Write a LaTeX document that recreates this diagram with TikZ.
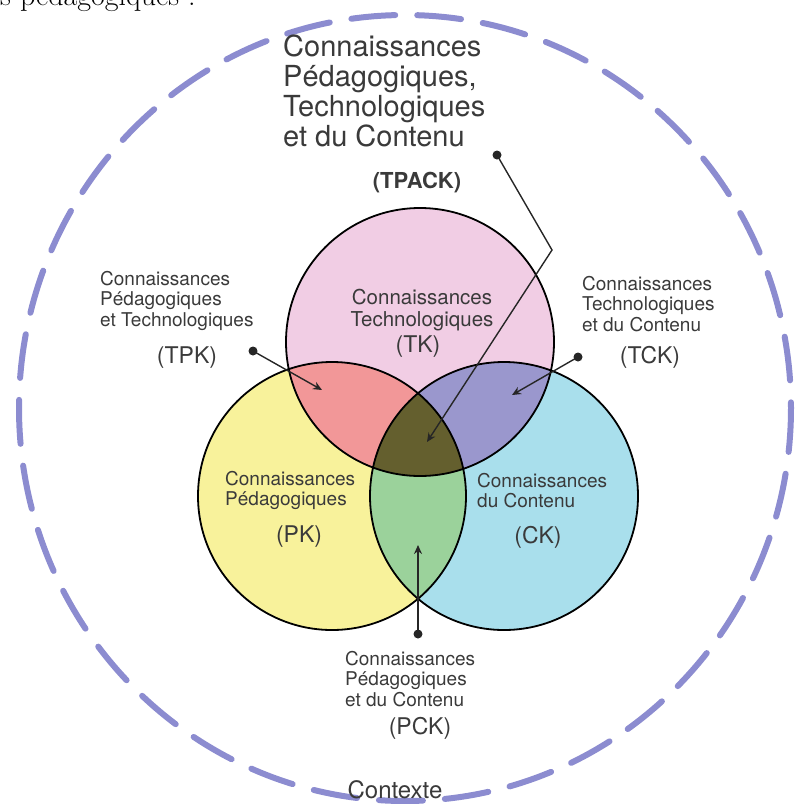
\documentclass[tikz,border=0pt]{standalone}
\usepackage{fontspec}
\setsansfont{TeX Gyre Heros}
\usepackage{tikz}
\usetikzlibrary{arrows.meta,calc,positioning}
\definecolor{tkpink}{HTML}{F1CDE4}
\definecolor{pkyellow}{HTML}{F8F29B}
\definecolor{ckcyan}{HTML}{A9DFEC}
\definecolor{tpkred}{HTML}{F29798}
\definecolor{tckviolet}{HTML}{9A97CD}
\definecolor{pckgreen}{HTML}{9BD29B}
\definecolor{tpackolive}{HTML}{645F2E}
\definecolor{ctxlilac}{HTML}{8C8CD0}
\definecolor{inkgray}{HTML}{3A3A3A}
\newcommand{\vennr}{134}
\tikzset{
	venn edge/.style={draw=black, line width=1.8pt},
	context ring/.style={draw=ctxlilac, line width=6pt, dash pattern=on 44pt off 22pt, line cap=round},
	kn label/.style={font=\sffamily\fontsize{19}{20.5}\selectfont, text=inkgray, align=left, inner sep=0pt},
	kn abbr/.style={font=\sffamily\fontsize{23}{25}\selectfont, text=inkgray, inner sep=0pt},
	kn title/.style={font=\sffamily\fontsize{29}{30}\selectfont, text=inkgray, align=left, inner sep=0pt},
	ptr/.style={draw=black!85, line width=1.4pt, -{Stealth[length=9pt,width=8pt]}},
	ptr dot/.style={fill=black!85}
}
\begin{document}
\begin{tikzpicture}[x=1pt,y=-1pt]
	\clip (0,0) rectangle (798,804);
	\node[anchor=base west, font=\fontsize{30}{30}\selectfont, inner sep=0pt] (intro) at (0,5) {s pédagogiques :};
	\draw[context ring] (405,408) ellipse [x radius=386, y radius=393];

	\coordinate (tk) at (420,342);
	\coordinate (pk) at (332,496);
	\coordinate (ck) at (504,496);
	\fill[tkpink] (tk) circle (\vennr);
	\fill[pkyellow] (pk) circle (\vennr);
	\fill[ckcyan] (ck) circle (\vennr);
	\begin{scope}
		\clip (tk) circle (\vennr);
		\fill[tpkred] (pk) circle (\vennr);
		\fill[tckviolet] (ck) circle (\vennr);
	\end{scope}
	\begin{scope}
		\clip (pk) circle (\vennr);
		\fill[pckgreen] (ck) circle (\vennr);
		\clip (ck) circle (\vennr);
		\fill[tpackolive] (tk) circle (\vennr);
	\end{scope}
	\draw[venn edge] (tk) circle (\vennr) (pk) circle (\vennr) (ck) circle (\vennr);

	\node[kn title, anchor=north west] (tpack label) at (283,35)
		{Connaissances\\Pédagogiques,\\Technologiques\\et du Contenu};
	\node[kn abbr, font=\sffamily\bfseries\fontsize{22}{24}\selectfont] (tpack abbr) at (417,183) {(TPACK)};
	\node[kn label, anchor=north west] (tpk label) at (100,271) {Connaissances\\Pédagogiques\\et Technologiques};
	\node[kn abbr] (tpk abbr) at (187,358) {(TPK)};
	\node[kn label, anchor=north west] (tck label) at (582,276) {Connaissances\\Technologiques\\et du Contenu};
	\node[kn abbr] (tck abbr) at (650,357) {(TCK)};
	\node[kn label, align=center, anchor=north, font=\sffamily\fontsize{20.5}{22}\selectfont] (tk label) at (422,289) {Connaissances\\Technologiques};
	\node[kn abbr] (tk abbr) at (418,347) {(TK)};
	\node[kn label, anchor=north west] (pk label) at (225,471) {Connaissances\\Pédagogiques};
	\node[kn abbr] (pk abbr) at (299,537) {(PK)};
	\node[kn label, anchor=north west] (ck label) at (477,473) {Connaissances\\du Contenu};
	\node[kn abbr] (ck abbr) at (538,537) {(CK)};
	\node[kn label, anchor=north west] (pck label) at (345,651) {Connaissances\\Pédagogiques\\et du Contenu};
	\node[kn abbr] (pck abbr) at (420,728) {(PCK)};
	\node[kn abbr, font=\sffamily\fontsize{24}{26}\selectfont] (context) at (395,790) {Contexte};

	\coordinate (tpack dot) at (497,155);
	\coordinate (tpack bend) at (552,250);
	\coordinate (tpack tip) at (427,442);
	\coordinate (tpk dot) at (253,351);
	\coordinate (tpk tip) at (322,390);
	\coordinate (tck dot) at (578,357);
	\coordinate (tck tip) at (512,395);
	\coordinate (pck dot) at (418,634);
	\coordinate (pck tip) at (418,545);
	\draw[ptr] (tpack dot) -- (tpack bend) -- (tpack tip);
	\draw[ptr] (tpk dot) -- (tpk tip);
	\draw[ptr] (tck dot) -- (tck tip);
	\draw[ptr] (pck dot) -- (pck tip);
	\foreach \d in {tpack,tpk,tck,pck}
		\fill[ptr dot] (\d\space dot) circle (4.5);
\end{tikzpicture}
\end{document}
